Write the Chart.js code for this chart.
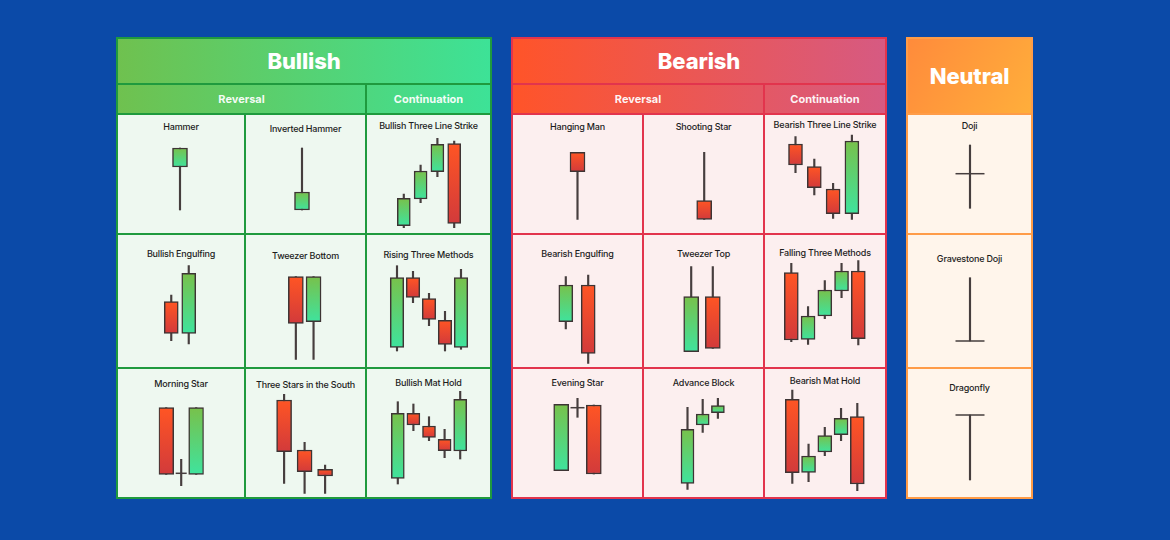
<!DOCTYPE html>
<html><head><meta charset="utf-8">
<script src="https://cdn.jsdelivr.net/npm/chart.js@4.4.1/dist/chart.umd.min.js"></script>
<style>
html,body{margin:0;padding:0;}
body{width:1170px;height:540px;background:#0b4aa8;position:relative;overflow:hidden;font-family:Inter,"Noto Sans",sans-serif;}
.abs{position:absolute;}
.hdr{position:absolute;color:#fff;font-weight:800;font-size:22px;display:flex;align-items:center;justify-content:center;letter-spacing:-0.1px;}
.sub{position:absolute;color:rgba(255,255,255,0.94);font-weight:700;font-size:11px;display:flex;align-items:center;justify-content:center;}
.ttl{position:absolute;text-align:center;font-size:9px;font-weight:500;color:#1d1d1d;letter-spacing:-0.2px;line-height:10px;white-space:nowrap;}
canvas{position:absolute;}
</style></head><body>
<script>
// ---------- DATA (each candle = [open, high, low, close]) ----------
const bullishNames = ['Hammer','Inverted Hammer','Bullish Three Line Strike','Bullish Engulfing','Tweezer Bottom','Rising Three Methods','Morning Star','Three Stars in the South','Bullish Mat Hold'];
const bearishNames = ['Hanging Man','Shooting Star','Bearish Three Line Strike','Bearish Engulfing','Tweezer Top','Falling Three Methods','Evening Star','Advance Block','Bearish Mat Hold'];
const neutralNames = ['Doji','Gravestone Doji','Dragonfly'];

const hammer = [[67,86,24,86]];
const invertedHammer = [[24,86,24,42]];
const bullishThreeLineStrike = [[8.3,40,6.3,35.7],[35,69,31.3,63],[62.3,95.7,57.3,89.7],[90.3,93,6.3,10.7]];
const bullishEngulfing = [[66.3,73,27.3,34.7],[34.7,102.3,24,94.7]];
const tweezerBottom = [[91.3,91.3,8.7,44.7],[46.3,91.3,8.7,91.3]];
const risingThreeMethods = [[20.7,102.3,17,90.3],[90.3,96.7,65.3,70.7],[69.3,74.7,42.3,48.7],[47.7,56.7,17,23.7],[20.7,98.7,18.7,90.3]];
const morningStar = [[90.3,90.3,23.7,23.7],[24.7,38.7,12.3,24.7],[23.7,90.3,23.7,90.3]];
const threeStarsInTheSouth = [[98,103.7,14.7,46.3],[48,55.7,4.7,26.3],[28.7,33,4.7,22]];
const bullishMatHold = [[19.7,96.3,14,84.7],[84.7,94,67.3,73],[72,81.3,57.3,60.7],[58.7,68.7,40.3,47.3],[47,106.7,39,98.7]];

const hangingMan = [[81.7,81.7,14.7,62.3]];
const shootingStar = [[33.3,81.7,14.7,14.7]];
const bearishThreeLineStrike = [[90,97.3,61.3,69],[67.3,75,39,46.3],[45,50.7,15.7,20.3],[20.3,99,14.7,93]];
const bearishEngulfing = [[46.3,91.3,39,83],[83,93,4.7,14.7]];
const tweezerTop = [[16.3,101.3,16.3,71.3],[71.3,101.3,19.7,19.7]];
const fallingThreeMethods = [[95.3,104.7,26.3,28],[28.7,61.3,23.7,52],[52,87.3,49.3,78],[77,104.7,70.3,97],[97,107.3,23,29.3]];
const eveningStar = [[27.3,93.7,27.3,93.7],[90.3,99.7,80.7,90.3],[93,93,24,24]];
const advanceBlock = [[14.7,90.7,8.7,68.7],[73,98.7,65.7,84],[85.3,99.7,79.7,92.3]];
const bearishMatHold = [[98.7,108,14.7,25.3],[25.7,54,16.3,42],[46,70.7,42.3,62.3],[63.3,89.7,57.3,79.7],[81.3,94.7,7.3,14]];

const doji = [[60.3,89,25.7,60.3]];
const gravestoneDoji = [[27,90.3,27,27]];
const dragonfly = [[83,83,18,83]];

const bullishSeries = [hammer, invertedHammer, bullishThreeLineStrike, bullishEngulfing, tweezerBottom, risingThreeMethods, morningStar, threeStarsInTheSouth, bullishMatHold];
const bearishSeries = [hangingMan, shootingStar, bearishThreeLineStrike, bearishEngulfing, tweezerTop, fallingThreeMethods, eveningStar, advanceBlock, bearishMatHold];
const neutralSeries = [doji, gravestoneDoji, dragonfly];

// ---------- LAYOUT / STYLE ----------
const ROWS = [114, 234, 368, 498];
const PANELS = [
  {title:'Bullish', x0:116, x1:492, cols:[117,245,366,491], border:'#1f9a3e', grad:['#6fc14f','#3de297'], cellBg:'#eef8f0',
   subs:[['Reversal',0,2],['Continuation',2,3]], names:bullishNames, series:bullishSeries,
   cells:[{cx:180,bw:15,ty:126.7},{cx:302,bw:15,ty:129},{cx:429,s:16.8,bw:13,ty:126},
          {cx:180,s:17.5,bw:14,ty:254},{cx:304.7,s:17.7,bw:15,ty:256},{cx:429,s:16,bw:13.5,ty:254.7},
          {cx:181.2,s:15,bw:15,dw:11,ty:384},{cx:304.6,s:20.5,bw:15,ty:385.3},{cx:429,s:15.6,bw:13,ty:382.7}]},
  {title:'Bearish', x0:511, x1:887, cols:[512,643,764,886], border:'#e2344d', grad:['#ff5429','#d65a82'], cellBg:'#fcefef',
   subs:[['Reversal',0,2],['Continuation',2,3]], names:bearishNames, series:bearishSeries,
   cells:[{cx:577.5,bw:15,ty:126.7},{cx:704.2,bw:15,ty:127.3},{cx:823.7,s:18.8,bw:14,ty:125.3},
          {cx:577,s:22.4,bw:14,ty:254},{cx:702,s:21.6,bw:15,ty:254},{cx:824.8,s:16.75,bw:14,ty:252.7},
          {cx:577.5,s:16.3,bw:15,dw:14,ty:383.3},{cx:702.7,s:15.2,bw:13,ty:383.3},{cx:824.8,s:16.25,bw:14,ty:380.7}]},
  {title:'Neutral', x0:906, x1:1033, cols:[907,1032], border:'#ff9c48', grad:['#ff8b3b','#ffae3b'], cellBg:'#fff5eb',
   subs:[], names:neutralNames, series:neutralSeries,
   cells:[{cx:970,dw:29,ty:126},{cx:970,dw:29,ty:259},{cx:970,dw:29,ty:388.3}]}
];

const GREEN = ['#78c14b','#3fe39d'];
const RED = ['#ff5524','#d23a3b'];

function bodyGradient(ctx) {
  if (ctx.type !== 'data' || !ctx.raw) return '#888';
  const chart = ctx.chart, ys = chart.scales.y;
  const o = ctx.raw[0], c = ctx.raw[1];
  const cols = c >= o ? GREEN : RED;
  const t = ys.getPixelForValue(Math.max(o, c)), b = ys.getPixelForValue(Math.min(o, c));
  if (!isFinite(t) || !isFinite(b) || t === b) return cols[0];
  const g = chart.ctx.createLinearGradient(0, t, 0, b);
  g.addColorStop(0, cols[0]); g.addColorStop(1, cols[1]);
  return g;
}

function el(cls, css, text) {
  const d = document.createElement('div');
  d.className = cls;
  Object.assign(d.style, css);
  if (text) d.textContent = text;
  document.body.appendChild(d);
  return d;
}

function candleChart(left, top, W, H, ohlc, cfg) {
  const cv = document.createElement('canvas');
  cv.width = W; cv.height = H;
  cv.style.left = left + 'px'; cv.style.top = top + 'px';
  cv.style.width = W + 'px'; cv.style.height = H + 'px';
  document.body.appendChild(cv);
  const n = ohlc.length;
  const s = cfg.s || 20;
  const padL = cfg.cx - left - n * s / 2;
  const padR = W - padL - n * s;
  const labels = ohlc.map((_, i) => 'c' + (i + 1));
  const wicks = ohlc.map(d => [d[2], d[1]]);
  const bodies = ohlc.map(d => d[0] === d[3] ? null : [d[0], d[3]]);
  const dojis = ohlc.map(d => d[0] === d[3] ? d[0] : null);
  new Chart(cv, {
    type: 'bar',
    data: { labels, datasets: [
      { type:'bar', data:bodies, grouped:false, order:0, barThickness:cfg.bw || 15, borderWidth:1.5,
        borderColor:'#3d3434', borderSkipped:false, backgroundColor:bodyGradient },
      { type:'bar', data:wicks, grouped:false, order:2, barThickness:1.5, backgroundColor:'#463e3e', borderWidth:0 },
      { type:'line', data:dojis, order:1, showLine:false, pointStyle:'line', pointRadius:(cfg.dw || 12) / 2,
        pointBorderWidth:1.5, pointBorderColor:'#463e3e', pointBackgroundColor:'#463e3e', pointHoverRadius:0, clip:false }
    ]},
    options: {
      responsive:false, animation:false, devicePixelRatio:1, events:[],
      layout:{ autoPadding:false, padding:{ left:padL, right:padR, top:0, bottom:0 } },
      plugins:{ legend:{display:false}, tooltip:{enabled:false}, title:{display:false} },
      scales:{ x:{ type:'category', display:false, offset:true },
               y:{ type:'linear', display:false, min:0, max:H } }
    }
  });
}

PANELS.forEach(p => {
  const W = p.x1 - p.x0;
  el('abs', {left:p.x0+'px', top:'37px', width:W+'px', height:'462px', background:p.border});
  const gw = W - 4;
  const gradCss = (x) => ({background:`linear-gradient(90deg, ${p.grad[0]}, ${p.grad[1]})`,
                          backgroundSize:gw+'px 100%', backgroundPosition:(-(x - p.x0 - 2))+'px 0', backgroundRepeat:'no-repeat'});
  const neutral = p.subs.length === 0;
  const titleH = neutral ? 74 : 44;
  const tcss = Object.assign({left:(p.x0+2)+'px', top:'39px', width:gw+'px', height:titleH+'px'}, gradCss(p.x0+2));
  if (neutral) tcss.background = `linear-gradient(120deg, ${p.grad[0]}, ${p.grad[1]})`;
  el('hdr', tcss, p.title);
  p.subs.forEach(([name, a, b]) => {
    const x = p.cols[a] + 1, w = p.cols[b] - 1 - x;
    el('sub', Object.assign({left:x+'px', top:'85px', width:w+'px', height:'28px'}, gradCss(x)), name);
  });
  const nc = p.cols.length - 1;
  p.cells.forEach((cfg, i) => {
    const r = Math.floor(i / nc), c = i % nc;
    const cl = p.cols[c], cr = p.cols[c+1];
    const top = ROWS[r], bottom = ROWS[r+1];
    el('abs', {left:(cl+1)+'px', top:(top+1)+'px', width:(cr-cl-2)+'px', height:(bottom-top-2)+'px', background:p.cellBg});
    el('ttl', {left:cl+'px', width:(cr-cl)+'px', top:(cfg.ty-5)+'px'}, p.names[i]);
    candleChart(cl, top, cr - cl, bottom - top, p.series[i], cfg);
  });
});
</script>
</body></html>
